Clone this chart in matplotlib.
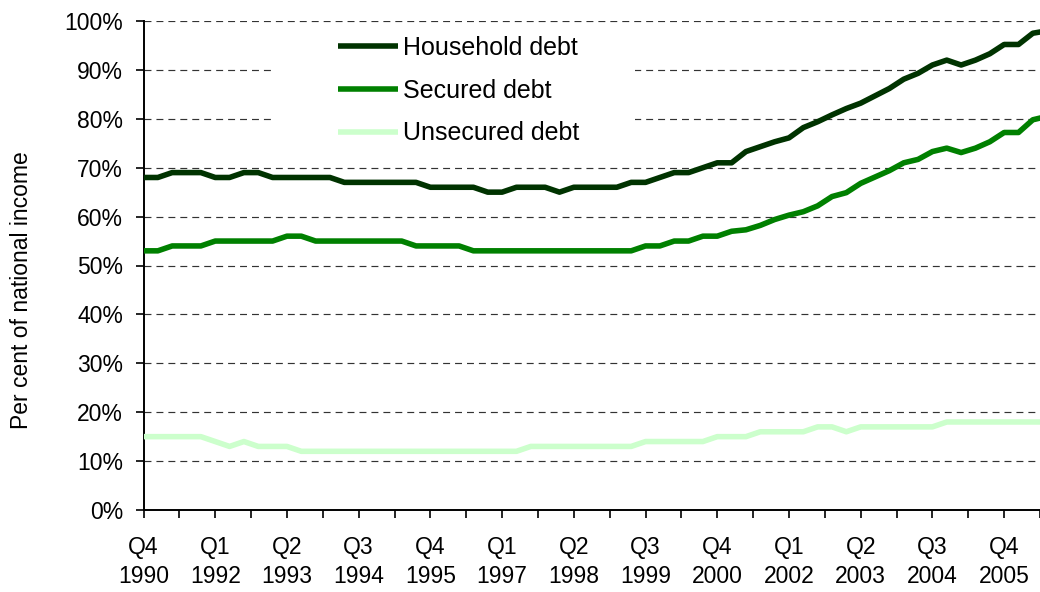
import matplotlib
matplotlib.use("Agg")
import matplotlib.pyplot as plt
from matplotlib.patches import Rectangle
from matplotlib.ticker import FixedLocator, FuncFormatter

plt.rcParams['font.family'] = ['Liberation Sans', 'DejaVu Sans']
plt.rcParams['lines.scale_dashes'] = False

# Quarterly debt ratios, Q4 1990 onwards (per cent of national income)
household = [68, 68, 69, 69, 69, 68, 68, 69, 69, 68,
             68, 68, 68, 68, 67, 67, 67, 67, 67, 67,
             66, 66, 66, 66, 65, 65, 66, 66, 66, 65,
             66, 66, 66, 66, 67, 67, 68, 69, 69, 70,
             71, 71, 73.3, 74.3, 75.3, 76.1, 78.2, 79.4, 80.8, 82.1,
             83.2, 84.7, 86.2, 88.1, 89.3, 91, 92, 91, 92, 93.3,
             95.2, 95.2, 97.5, 98]
secured = [53, 53, 54, 54, 54, 55, 55, 55, 55, 55,
           56, 56, 55, 55, 55, 55, 55, 55, 55, 54,
           54, 54, 54, 53, 53, 53, 53, 53, 53, 53,
           53, 53, 53, 53, 53, 54, 54, 55, 55, 56,
           56, 57, 57.3, 58.2, 59.4, 60.3, 61, 62.2, 64.1, 64.9,
           66.8, 68.1, 69.4, 71, 71.7, 73.3, 74, 73.1, 74, 75.3,
           77.2, 77.2, 79.8, 80.5]
unsecured = [15, 15, 15, 15, 15, 14, 13, 14, 13, 13,
             13, 12, 12, 12, 12, 12, 12, 12, 12, 12,
             12, 12, 12, 12, 12, 12, 12, 13, 13, 13,
             13, 13, 13, 13, 13, 14, 14, 14, 14, 14,
             15, 15, 15, 16, 16, 16, 16, 17, 17, 16,
             17, 17, 17, 17, 17, 17, 18, 18, 18, 18,
             18, 18, 18, 18]

series_names = ["Household debt", "Secured debt", "Unsecured debt"]
series_colors = ["#003300", "#008000", "#CCFFCC"]

x_tick_labels = ["Q4\n1990", "Q1\n1992", "Q2\n1993", "Q3\n1994", "Q4\n1995",
                 "Q1\n1997", "Q2\n1998", "Q3\n1999", "Q4\n2000", "Q1\n2002",
                 "Q2\n2003", "Q3\n2004", "Q4\n2005"]
y_ticks = [0, 10, 20, 30, 40, 50, 60, 70, 80, 90, 100]

W, H = 1040, 592
fig = plt.figure(figsize=(W / 100, H / 100), dpi=100)
ax = fig.add_axes([143.5 / W, 82 / H, (W - 143.5) / W, (510 - 21) / H])

quarters = list(range(len(household)))
step = 5
ax.set_xlim(0, 62.5)
ax.set_ylim(0, 100)

# gridlines
ax.set_axisbelow(True)
ax.yaxis.grid(True, linestyle=(0, (5, 3.6)), color="#333333", linewidth=0.85)
ax.xaxis.grid(False)

# white block behind the legend
ax.add_patch(Rectangle((273 / W, 1 - 158 / H), (635 - 273) / W, (158 - 30) / H,
                       transform=fig.transFigure, facecolor="white",
                       edgecolor="none", zorder=1.8, clip_on=False))

for vals, name, col in zip([household, secured, unsecured], series_names, series_colors):
    ax.plot(quarters, vals, color=col, lw=4.0, label=name, zorder=3,
            solid_joinstyle="round", solid_capstyle="butt")

# axes styling
for side in ("top", "right"):
    ax.spines[side].set_visible(False)
for side in ("left", "bottom"):
    ax.spines[side].set_linewidth(1.4)
    ax.spines[side].set_color("black")

major_x = [i * step for i in range(len(x_tick_labels))]
minor_x = [p + step / 2 for p in major_x]
ax.xaxis.set_major_locator(FixedLocator(major_x))
ax.xaxis.set_minor_locator(FixedLocator(minor_x))
ax.set_xticklabels(x_tick_labels, linespacing=1.33)
ax.yaxis.set_major_locator(FixedLocator(y_ticks))
ax.yaxis.set_major_formatter(FuncFormatter(lambda v, p: f"{int(v)}%"))

ax.tick_params(axis="x", which="both", direction="out", length=5.8, width=1.2,
               color="black")
ax.tick_params(axis="x", which="major", pad=13, labelsize=16.5)
ax.tick_params(axis="y", which="major", direction="out", length=5.8, width=1.2,
               pad=9, labelsize=16.5)

fig.text(22 / W, 1 - 290 / H, "Per cent of national income", rotation=90,
         ha="center", va="center", fontsize=16.5)

leg = ax.legend(loc="upper left", bbox_to_anchor=(338 / W, 1 - 36 / H),
                bbox_transform=fig.transFigure, frameon=False, fontsize=18,
                handlelength=2.4, handletextpad=0.2, labelspacing=0.75,
                borderpad=0, borderaxespad=0)
leg.set_zorder(5)

fig.savefig("out.png", dpi=100)
